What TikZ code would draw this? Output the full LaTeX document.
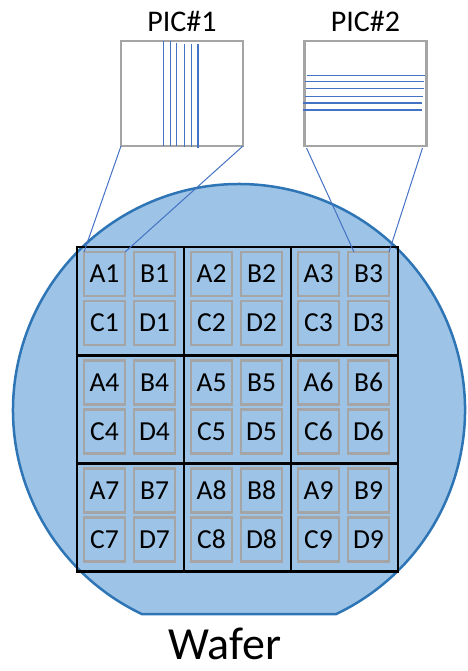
\documentclass[tikz,border=0pt]{standalone}
\usepackage{fontspec}
\setmainfont{Carlito}
\usetikzlibrary{calc}
\definecolor{waferfill}{HTML}{9DC3E6}
\definecolor{waferline}{HTML}{2E75B6}
\definecolor{linkblue}{HTML}{4472C4}
\definecolor{boxgray}{HTML}{A5A5A5}
\tikzset{
  wafer/.style={fill=waferfill, draw=waferline, line width=2.5pt},
  cellbox/.style={draw=black, line width=2.5pt, minimum width=107pt, minimum height=108pt, inner sep=0pt, outer sep=0pt, anchor=north west},
  diebox/.style={draw=boxgray, line width=2.5pt, minimum width=41pt, minimum height=44pt, inner sep=0pt, outer sep=0pt, anchor=north west, font=\fontsize{27.5}{30}\selectfont},
  picbox/.style={draw=boxgray, line width=2.5pt, fill=white, minimum width=122pt, minimum height=105pt, inner sep=0pt, outer sep=0pt, anchor=north west},
  scan/.style={draw=linkblue, line width=1.2pt},
  link/.style={draw=linkblue, line width=1pt},
  title/.style={font=\fontsize{30}{34}\selectfont, anchor=base, inner sep=0pt}
}
\begin{document}
\begin{tikzpicture}[x=1pt,y=-1pt]
\useasboundingbox (0,0) rectangle (467,671);
% wafer
\draw[wafer] (336.3,614) arc[start angle=64.5,end angle=-244.5,radius=226] -- cycle;
% cells and dies
\foreach \r in {0,1,2}{
  \foreach \c in {0,1,2}{
    \pgfmathtruncatemacro{\n}{3*\r+\c+1}
    \pgfmathsetmacro{\cx}{77+107*\c}
    \pgfmathsetmacro{\cy}{247+108.3*\r}
    \node[cellbox] (cell\n) at (\cx,\cy) {};
    \node[diebox] (A\n) at (\cx+7,\cy+5) {A\n};
    \node[diebox] (B\n) at (\cx+57,\cy+5) {B\n};
    \node[diebox] (C\n) at (\cx+7,\cy+54) {C\n};
    \node[diebox] (D\n) at (\cx+57,\cy+54) {D\n};
  }
}
% pictures
\node[picbox] (pic1) at (121,41) {};
\node[picbox] (pic2) at (304.5,41) {};
\node[title] (t1) at (182,32) {PIC\#1};
\node[title] (t2) at (365.5,32) {PIC\#2};
\foreach \x/\ya/\yb in {163.3/41/146,170.3/41/146,176.7/43/146,184.7/44/147,191.7/44/147,198/44/148}{
  \draw[scan] (\x,\ya) -- (\x,\yb);
}
\foreach \y/\xa/\xb in {75.7/307/425,81.3/305/424,88.7/306/424,96.3/305/423,103/303/422,110/303/422}{
  \draw[scan] (\xa,\y) -- (\xb,\y);
}
% connectors
\draw[link] (pic1.south west) -- (A1.north west);
\draw[link] (pic1.south east) -- (A1.north east);
\draw[link] ($(pic2.south west)+(2,2)$) -- ($(B3.north west)+(6,0)$);
\draw[link] ($(pic2.south east)+(-4,2)$) -- (B3.north east);
% label
\node[font=\fontsize{46}{50}\selectfont, anchor=base, inner sep=0pt, text depth=0pt] (wlabel) at (225,659) {Wafer};
\end{tikzpicture}
\end{document}
